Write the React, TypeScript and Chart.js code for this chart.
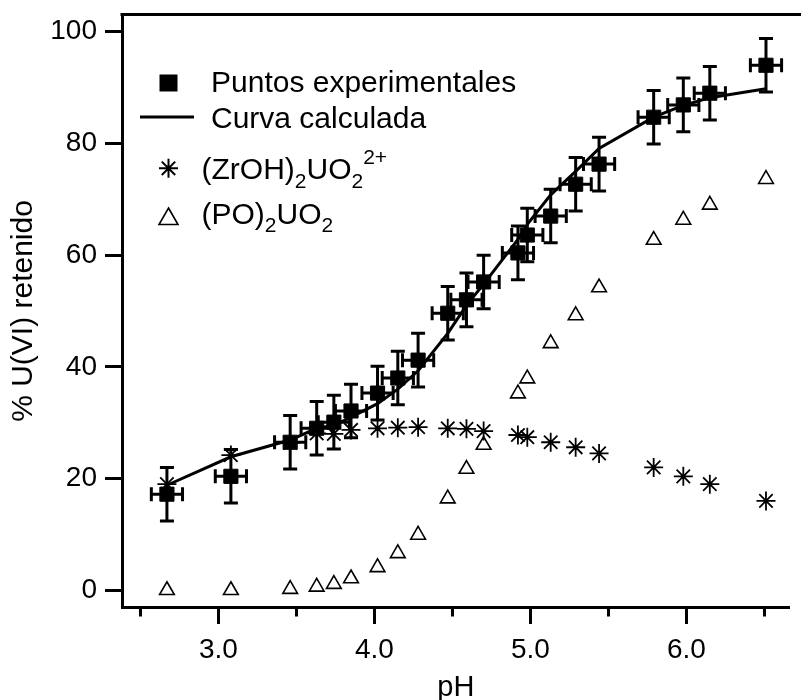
import React, { useEffect, useRef } from 'react';
import { Chart, registerables } from 'chart.js';

Chart.register(...registerables);

// ---------- data ----------
const pH = [2.67, 3.08, 3.46, 3.63, 3.74, 3.85, 4.02, 4.15, 4.28, 4.47, 4.59, 4.70, 4.92, 4.98, 5.13, 5.29, 5.44, 5.79, 5.98, 6.15, 6.51];
const experimental = [17.2, 20.4, 26.5, 29.0, 30.1, 32.1, 35.3, 38.0, 41.2, 49.6, 52.0, 55.2, 60.4, 63.6, 67.0, 72.7, 76.3, 84.7, 86.9, 89.0, 94.0];
const yErr = [4.8, 4.8, 4.8, 4.8, 4.8, 4.8, 4.8, 4.8, 4.8, 4.8, 4.8, 4.8, 4.8, 4.8, 4.8, 4.8, 4.8, 4.8, 4.8, 4.8, 4.8];
const xErr = [0.1, 0.1, 0.1, 0.1, 0.1, 0.1, 0.1, 0.1, 0.1, 0.1, 0.1, 0.1, 0.1, 0.1, 0.1, 0.1, 0.1, 0.1, 0.1, 0.1, 0.1];
const calculated = [18.8, 23.9, 26.9, 29.0, 29.5, 31.0, 33.4, 36.0, 39.3, 46.0, 51.0, 54.8, 62.8, 65.5, 70.8, 75.0, 79.1, 84.7, 86.8, 88.2, 89.8];
const zrohSpecies = [19.0, 24.2, 26.4, 28.1, 28.0, 28.7, 29.0, 29.1, 29.2, 29.0, 28.9, 28.5, 27.8, 27.4, 26.5, 25.6, 24.5, 22.0, 20.4, 19.0, 16.0];
const poSpecies = [0.0, 0.0, 0.2, 0.6, 1.1, 2.1, 4.1, 6.6, 9.9, 16.4, 21.7, 26.0, 35.2, 37.9, 44.2, 49.2, 54.2, 62.7, 66.3, 69.0, 73.6];

const yTicks = [0, 20, 40, 60, 80, 100];
const xMajorTicks = [3, 4, 5, 6];
const xMinorTicks = [2.5, 3.5, 4.5, 5.5, 6.5];
const xRange = [2.382, 6.662];
const yRange = [-3, 103];

const xTitle = 'pH';
const yTitle = '% U(VI) retenido';
const legendExperimental = 'Puntos experimentales';
const legendCurve = 'Curva calculada';
// rich labels: [text, kind] with kind n = normal, b = subscript, p = superscript
const legendZr: [string, string][] = [['(ZrOH)', 'n'], ['2', 'b'], ['UO', 'n'], ['2', 'b'], ['2+', 'p']];
const legendPO: [string, string][] = [['(PO)', 'n'], ['2', 'b'], ['UO', 'n'], ['2', 'b']];

const FONT = "'Liberation Sans', Arial, Helvetica, sans-serif";

const toPts = (ys: number[]) => pH.map((x, i) => ({ x, y: ys[i] }));

function drawRich(ctx: CanvasRenderingContext2D, segs: [string, string][], x: number, y: number, subDy: number) {
  let cx = x;
  for (const [t, k] of segs) {
    const size = k === 'n' ? 30 : 21;
    ctx.font = `${size}px ${FONT}`;
    const dy = k === 'b' ? subDy : k === 'p' ? -15 : 0;
    ctx.fillText(t, cx, y + dy);
    cx += ctx.measureText(t).width;
  }
}

const errorBarPlugin = {
  id: 'errorBars',
  afterDatasetsDraw(chart: any) {
    const xs = chart.scales.x;
    const ys = chart.scales.y;
    const ctx: CanvasRenderingContext2D = chart.ctx;
    const cap = 7;
    ctx.save();
    ctx.strokeStyle = '#000';
    ctx.lineWidth = 3;
    pH.forEach((x, i) => {
      const px = xs.getPixelForValue(x);
      const py = ys.getPixelForValue(experimental[i]);
      const yT = ys.getPixelForValue(experimental[i] + yErr[i]);
      const yB = ys.getPixelForValue(experimental[i] - yErr[i]);
      const xL = xs.getPixelForValue(x - xErr[i]);
      const xR = xs.getPixelForValue(x + xErr[i]);
      ctx.beginPath();
      ctx.moveTo(px, yT); ctx.lineTo(px, yB);
      ctx.moveTo(px - cap, yT); ctx.lineTo(px + cap, yT);
      ctx.moveTo(px - cap, yB); ctx.lineTo(px + cap, yB);
      ctx.moveTo(xL, py); ctx.lineTo(xR, py);
      ctx.moveTo(xL, py - cap); ctx.lineTo(xL, py + cap);
      ctx.moveTo(xR, py - cap); ctx.lineTo(xR, py + cap);
      ctx.stroke();
    });
    ctx.restore();
  },
};

const framePlugin = {
  id: 'frameAndMinor',
  afterDraw(chart: any) {
    const ctx: CanvasRenderingContext2D = chart.ctx;
    const a = chart.chartArea;
    const xs = chart.scales.x;
    ctx.save();
    ctx.strokeStyle = '#000';
    ctx.lineWidth = 3;
    // top frame line
    ctx.beginPath();
    ctx.moveTo(a.left - 1.5, a.top - 0.5);
    ctx.lineTo(chart.width, a.top - 0.5);
    ctx.stroke();
    // minor x ticks
    const base = Math.round(a.bottom - 1.5) + 1.5;
    ctx.beginPath();
    xMinorTicks.forEach((v) => {
      const px = Math.round(xs.getPixelForValue(v) - 1.5) + 1.5;
      ctx.moveTo(px, base);
      ctx.lineTo(px, base + 9);
    });
    ctx.stroke();
    ctx.restore();
  },
};

const legendPlugin = {
  id: 'speciesLegend',
  afterDraw(chart: any) {
    const ctx: CanvasRenderingContext2D = chart.ctx;
    const a = chart.chartArea;
    const mx = a.left + 46.5;
    const t = a.top;
    ctx.save();
    ctx.fillStyle = '#000';
    ctx.strokeStyle = '#000';
    // square
    ctx.fillRect(mx - 9, t + 68 - 8.5, 18, 17);
    // line
    ctx.lineWidth = 3;
    ctx.beginPath();
    ctx.moveTo(a.left + 18, t + 102);
    ctx.lineTo(a.left + 72, t + 102);
    ctx.stroke();
    // star
    ctx.lineWidth = 2;
    const sy = t + 153.3;
    const r = 9.5;
    ctx.beginPath();
    for (let k = 0; k < 4; k++) {
      const ang = (k * Math.PI) / 4;
      const dx = Math.cos(ang) * r;
      const dy = Math.sin(ang) * r;
      ctx.moveTo(mx - dx, sy - dy);
      ctx.lineTo(mx + dx, sy + dy);
    }
    ctx.stroke();
    // triangle
    ctx.lineWidth = 1.6;
    const ty = t + 201.5;
    ctx.beginPath();
    ctx.moveTo(mx, ty - 8.5);
    ctx.lineTo(mx + 9.5, ty + 8);
    ctx.lineTo(mx - 9.5, ty + 8);
    ctx.closePath();
    ctx.stroke();
    // texts
    ctx.textAlign = 'left';
    ctx.textBaseline = 'alphabetic';
    ctx.font = `30px ${FONT}`;
    ctx.fillText(legendExperimental, a.left + 89, t + 76.7);
    ctx.fillText(legendCurve, a.left + 89, t + 113.3);
    drawRich(ctx, legendZr, a.left + 79.5, t + 163.5, 9);
    drawRich(ctx, legendPO, a.left + 79.5, t + 208.5, 8);
    ctx.restore();
  },
};

export default function App() {
  const ref = useRef<HTMLCanvasElement>(null);
  useEffect(() => {
    const canvas = ref.current;
    if (!canvas) return;
    const chart = new Chart(canvas, {
      type: 'scatter',
      data: {
        datasets: [
          {
            label: legendExperimental,
            data: toPts(experimental),
            pointStyle: 'rect',
            pointRadius: 10,
            pointHoverRadius: 10,
            pointBackgroundColor: '#000',
            pointBorderColor: '#000',
            pointBorderWidth: 1,
            showLine: false,
          },
          {
            label: legendCurve,
            data: toPts(calculated),
            showLine: true,
            borderColor: '#000',
            borderWidth: 3,
            pointRadius: 0,
            tension: 0,
            fill: false,
          },
          {
            label: '(ZrOH)2UO2 2+',
            data: toPts(zrohSpecies),
            pointStyle: 'star',
            pointRadius: 9.5,
            pointBorderColor: '#000',
            pointBackgroundColor: '#000',
            pointBorderWidth: 1.8,
            showLine: false,
          },
          {
            label: '(PO)2UO2',
            data: toPts(poSpecies),
            pointStyle: 'triangle',
            pointRadius: 8.5,
            pointBackgroundColor: 'rgba(0,0,0,0)',
            pointBorderColor: '#000',
            pointBorderWidth: 1.6,
            showLine: false,
          },
        ],
      } as any,
      options: {
        animation: false,
        responsive: true,
        maintainAspectRatio: false,
        layout: { padding: { top: 15, right: 0, bottom: 0, left: 0 } },
        plugins: { legend: { display: false }, tooltip: { enabled: false } },
        scales: {
          x: {
            type: 'linear',
            position: 'bottom',
            min: xRange[0],
            max: xRange[1],
            afterBuildTicks: (s: any) => {
              s.ticks = xMajorTicks.map((value) => ({ value }));
            },
            afterFit: (s: any) => {
              s.height = 93;
              s.paddingLeft = 0;
              s.paddingRight = 0;
            },
            ticks: {
              color: '#000',
              padding: 12,
              maxRotation: 0,
              autoSkip: false,
              font: { family: FONT, size: 28, lineHeight: 1 },
              callback: (v: any) => Number(v).toFixed(1),
            },
            grid: { drawOnChartArea: false, drawTicks: true, tickLength: 17, tickWidth: 3, tickColor: '#000' },
            border: { display: true, width: 3, color: '#000' },
            title: {
              display: true,
              text: xTitle,
              color: '#000',
              font: { family: FONT, size: 29, lineHeight: 0.8 },
              padding: { top: 0, bottom: 0 },
            },
          },
          y: {
            type: 'linear',
            position: 'left',
            min: yRange[0],
            max: yRange[1],
            afterBuildTicks: (s: any) => {
              s.ticks = yTicks.map((value) => ({ value }));
            },
            afterFit: (s: any) => {
              s.width = 122;
              s.paddingTop = 0;
              s.paddingBottom = 0;
            },
            ticks: {
              color: '#000',
              padding: 8,
              font: { family: FONT, size: 28, lineHeight: 1 },
              callback: (v: any) => String(v),
            },
            grid: { drawOnChartArea: false, drawTicks: true, tickLength: 17, tickWidth: 3, tickColor: '#000' },
            border: { display: true, width: 3, color: '#000' },
            title: {
              display: true,
              text: yTitle,
              color: '#000',
              font: { family: FONT, size: 30 },
              padding: { top: 6, bottom: 0 },
            },
          },
        },
      } as any,
      plugins: [errorBarPlugin, framePlugin, legendPlugin],
    });
    return () => chart.destroy();
  }, []);
  return (
    <div style={{ position: 'absolute', left: 0, top: 0, width: 801, height: 700, background: '#fff' }}>
      <canvas ref={ref} />
    </div>
  );
}
